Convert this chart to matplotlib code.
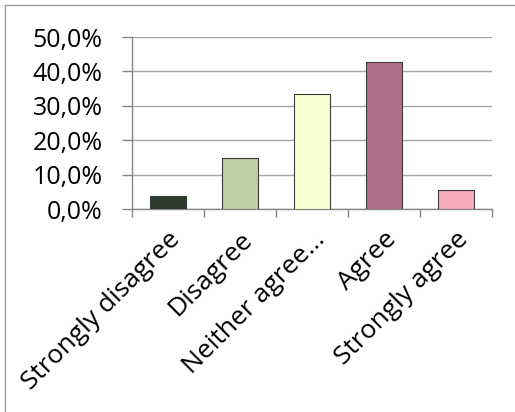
import numpy as np
import matplotlib.pyplot as plt
from matplotlib.lines import Line2D
from matplotlib.ticker import FuncFormatter

categories = ['Strongly disagree', 'Disagree', 'Neither agree...', 'Agree', 'Strongly agree']
values = [3.9, 14.9, 33.4, 42.6, 5.6]
colors = ['#2c3d2e', '#bcd0a2', '#f8ffd2', '#b07089', '#f5abbb']

plt.rcParams['font.family'] = ['Open Sans', 'DejaVu Sans']

W, H = 515, 412
fig = plt.figure(figsize=(W / 100, H / 100), dpi=100)
ax = fig.add_axes([132 / W, 1 - 209 / H, 360 / W, 172 / H])

x = np.arange(len(categories))
ax.bar(x, values, width=0.5, color=colors, edgecolor='#3a3a3a', linewidth=0.8, zorder=3)

ax.set_xlim(-0.5, len(categories) - 0.5)
ax.set_ylim(0, 50)
ax.set_yticks(np.arange(0, 51, 10))
ax.yaxis.set_major_formatter(FuncFormatter(lambda v, p: f'{v:.1f}%'.replace('.', ',')))
ax.yaxis.grid(True, color='#a6a6a6', linewidth=1.0, zorder=0)

# x ticks between categories, labels at centres
ax.set_xticks(np.arange(-0.5, len(categories), 1.0))
ax.set_xticklabels([])
ax.set_xticks(x, minor=True)
ax.set_xticklabels(categories, minor=True, rotation=45, ha='right',
                   rotation_mode='anchor', fontsize=19)
ax.tick_params(axis='x', which='major', length=6, color='#868686', width=1)
ax.tick_params(axis='x', which='minor', length=0, pad=13)
ax.tick_params(axis='y', length=7, color='#868686', width=1, labelsize=18, pad=14)

for s in ['top', 'right']:
    ax.spines[s].set_visible(False)
for s in ['left', 'bottom']:
    ax.spines[s].set_color('#868686')
    ax.spines[s].set_linewidth(1)

# chart area border (only top and left visible)
fig.add_artist(Line2D([5 / W, 1], [1 - 5 / H, 1 - 5 / H], color='#a0a0a0', linewidth=1))
fig.add_artist(Line2D([5 / W, 5 / W], [0, 1 - 5 / H], color='#a0a0a0', linewidth=1))

fig.savefig('out.png', dpi=100)
